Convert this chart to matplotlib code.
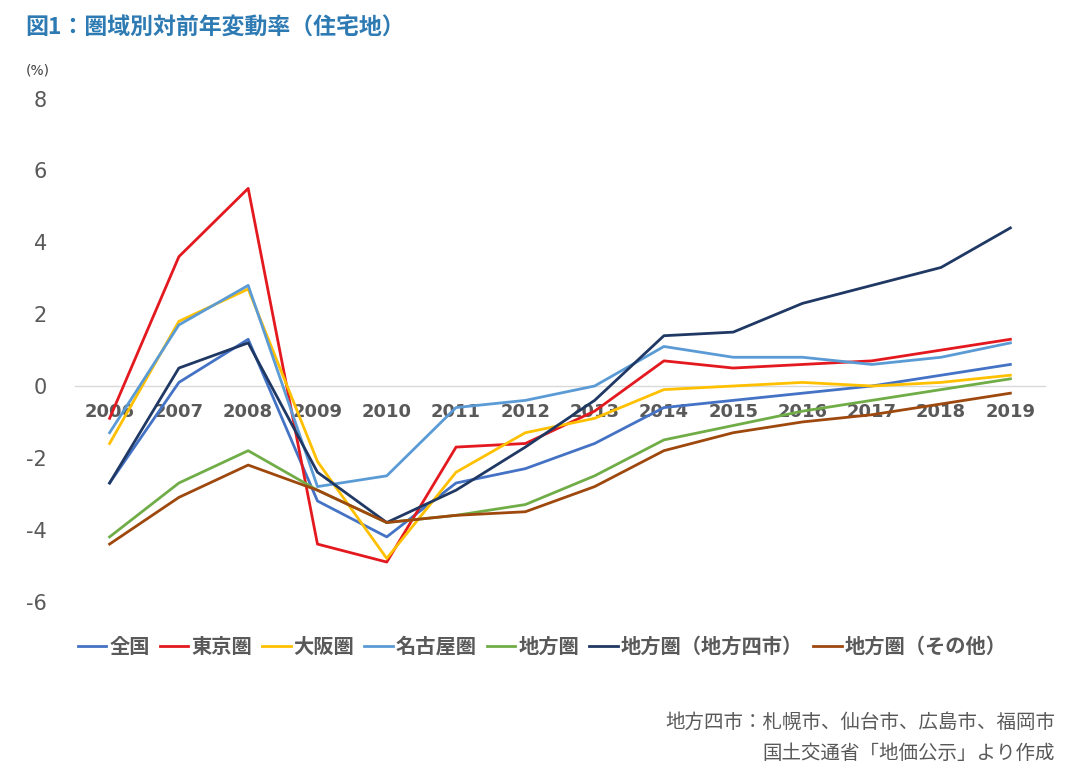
import matplotlib
matplotlib.use('Agg')
import matplotlib.pyplot as plt

plt.rcParams['font.family'] = ['Noto Sans CJK JP', 'DejaVu Sans']
plt.rcParams['axes.unicode_minus'] = False

years = [2006, 2007, 2008, 2009, 2010, 2011, 2012, 2013, 2014, 2015, 2016, 2017, 2018, 2019]

zenkoku = [-2.7, 0.1, 1.3, -3.2, -4.2, -2.7, -2.3, -1.6, -0.6, -0.4, -0.2, 0.0, 0.3, 0.6]
tokyo = [-0.9, 3.6, 5.5, -4.4, -4.9, -1.7, -1.6, -0.7, 0.7, 0.5, 0.6, 0.7, 1.0, 1.3]
osaka = [-1.6, 1.8, 2.7, -2.1, -4.8, -2.4, -1.3, -0.9, -0.1, 0.0, 0.1, 0.0, 0.1, 0.3]
nagoya = [-1.3, 1.7, 2.8, -2.8, -2.5, -0.6, -0.4, 0.0, 1.1, 0.8, 0.8, 0.6, 0.8, 1.2]
chihou = [-4.2, -2.7, -1.8, -2.9, -3.8, -3.6, -3.3, -2.5, -1.5, -1.1, -0.7, -0.4, -0.1, 0.2]
yonshi = [-2.7, 0.5, 1.2, -2.4, -3.8, -2.9, -1.7, -0.4, 1.4, 1.5, 2.3, 2.8, 3.3, 4.4]
sonota = [-4.4, -3.1, -2.2, -2.9, -3.8, -3.6, -3.5, -2.8, -1.8, -1.3, -1.0, -0.8, -0.5, -0.2]

labels = ['全国', '東京圏', '大阪圏', '名古屋圏', '地方圏', '地方圏（地方四市）', '地方圏（その他）']
colors = ['#4472C4', '#E3191F', '#FFC000', '#5B9BD5', '#70AD47', '#1F3864', '#9E480E']
series = [zenkoku, tokyo, osaka, nagoya, chihou, yonshi, sonota]

fig = plt.figure(figsize=(10.8, 7.75), dpi=100)
ax = fig.add_axes([0.0694, 0.2006, 0.8982, 0.6861])

for vals, lab, col in zip(series, labels, colors):
    ax.plot(years, vals, color=col, linewidth=2.0, label=lab)

ax.set_xlim(2005.5, 2019.5)
ax.set_ylim(-6.5, 8.3)
ax.set_yticks([-6, -4, -2, 0, 2, 4, 6, 8])
ax.set_xticks(years)

for s in ['top', 'right', 'left']:
    ax.spines[s].set_visible(False)
ax.spines['bottom'].set_position(('data', 0))
ax.spines['bottom'].set_color('#d9d9d9')
ax.spines['bottom'].set_linewidth(1.0)
ax.spines['bottom'].set_zorder(0)

ax.tick_params(axis='x', length=0, pad=12, labelsize=13, labelcolor='#595959')
ax.tick_params(axis='y', length=0, pad=20, labelsize=15, labelcolor='#595959')
for t in ax.get_xticklabels():
    t.set_fontweight('bold')
    t.set_family(['DejaVu Sans'])
for t in ax.get_yticklabels():
    t.set_family(['DejaVu Sans'])

fig.text(0.023, 0.963, '図1：圏域別対前年変動率（住宅地）', fontsize=16.5, fontweight='bold',
         color='#2E7BB4', ha='left', va='center')
fig.text(0.024, 0.909, '(%)', fontsize=10, color='#404040', ha='left', va='center',
         family=['DejaVu Sans'])

fig.legend(loc='center left', bbox_to_anchor=(0.072, 0.166), ncol=7, frameon=False,
           handlelength=1.4, handletextpad=0.15, columnspacing=0.5,
           borderaxespad=0, borderpad=0,
           labelcolor='#595959', prop={'weight': 'bold', 'size': 14.6})

fig.text(0.977, 0.068, '地方四市：札幌市、仙台市、広島市、福岡市', fontsize=14,
         color='#595959', ha='right', va='center')
fig.text(0.977, 0.028, '国土交通省「地価公示」より作成', fontsize=14,
         color='#595959', ha='right', va='center')

fig.savefig('out.png', dpi=100, facecolor='white')
